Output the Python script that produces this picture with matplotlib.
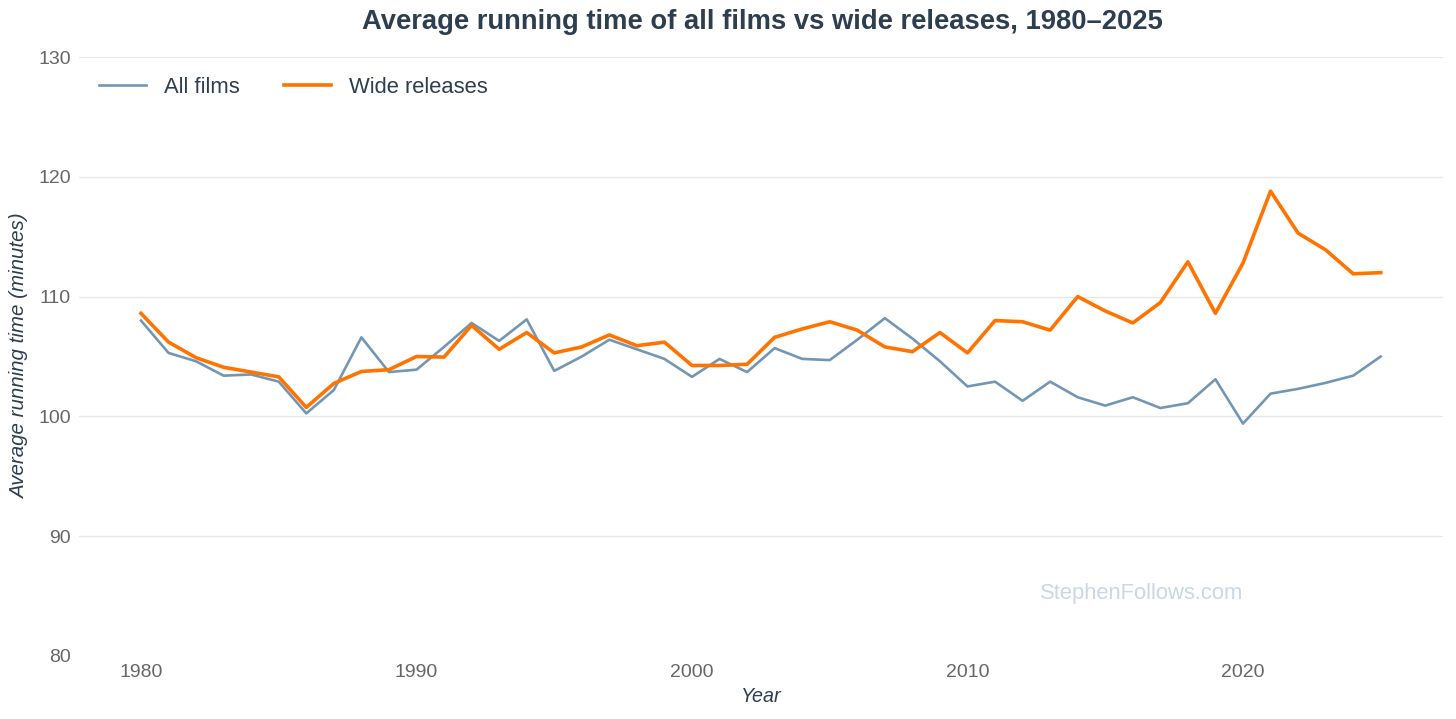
import numpy as np
import matplotlib
matplotlib.use('Agg')
import matplotlib.pyplot as plt

plt.rcParams['font.family'] = ['Liberation Sans', 'DejaVu Sans']

# 연도 데이터
years = np.arange(1980, 2026)

# 전체 영화 평균 러닝타임 (분)
all_films = [108.0, 105.3, 104.6, 103.4, 103.5, 102.9, 100.25, 102.2, 106.6, 103.7,
             103.9, 105.8, 107.8, 106.3, 108.1, 103.8, 105.0, 106.4, 105.6, 104.8,
             103.3, 104.8, 103.7, 105.7, 104.8, 104.7, 106.4, 108.2, 106.5, 104.6,
             102.5, 102.9, 101.3, 102.9, 101.6, 100.9, 101.6, 100.7, 101.1, 103.1,
             99.4, 101.9, 102.3, 102.8, 103.4, 105.0]

# 와이드 릴리즈 평균 러닝타임 (분)
wide_releases = [108.6, 106.2, 104.9, 104.1, 103.7, 103.3, 100.75, 102.75, 103.75, 103.9,
                 105.0, 104.95, 107.6, 105.6, 107.0, 105.3, 105.8, 106.8, 105.9, 106.2,
                 104.25, 104.25, 104.35, 106.6, 107.3, 107.9, 107.2, 105.8, 105.4, 107.0,
                 105.3, 108.0, 107.9, 107.2, 110.0, 108.8, 107.8, 109.5, 112.9, 108.6,
                 112.8, 118.8, 115.3, 113.9, 111.9, 112.0]

x_ticks = [1980, 1990, 2000, 2010, 2020]
y_ticks = [80, 90, 100, 110, 120, 130]

W, H = 1456, 719
fig = plt.figure(figsize=(W / 100, H / 100), dpi=100)
# 축 위치 (픽셀 기준으로 계산)
ax_l, ax_r, ax_t, ax_b = 79, 1443, 57, 656
ax = fig.add_axes([ax_l / W, 1 - ax_b / H, (ax_r - ax_l) / W, (ax_b - ax_t) / H])

ax.plot(years, all_films, color='#7396b5', linewidth=1.9, label='All films')
ax.plot(years, wide_releases, color='#ff7300', linewidth=2.6, label='Wide releases')

ax.set_xlim(1977.75, 2027.26)
ax.set_ylim(80, 130)
ax.set_xticks(x_ticks)
ax.set_yticks(y_ticks)

# 그리드 (80 선은 안 보이게)
for v in y_ticks[1:]:
    ax.axhline(v, color='#e6e6e6', linewidth=0.9, zorder=0)

for s in ax.spines.values():
    s.set_visible(False)
ax.tick_params(axis='both', length=0, labelsize=14, labelcolor='#666666')
ax.tick_params(axis='y', pad=6)
ax.tick_params(axis='x', pad=6)

ax.set_xlabel('Year', fontsize=14.2, style='italic', color='#2c3e50')
ax.xaxis.set_label_coords(0.5, -(696 - ax_b) / (ax_b - ax_t))
ax.xaxis.label.set_va('center')
ax.set_ylabel('Average running time (minutes)', fontsize=14.8, style='italic', color='#2c3e50')
ax.yaxis.set_label_coords(-(ax_l - 20) / (ax_r - ax_l), 0.5)
ax.yaxis.label.set_va('center')

fig.text(762 / W, 1 - 22 / H, 'Average running time of all films vs wide releases, 1980\u20132025',
         ha='center', va='center', fontsize=19.7, fontweight='bold', color='#2c3e50')

leg = ax.legend(loc='upper left', ncol=2, frameon=False, fontsize=15.8, handlelength=2.15,
                columnspacing=2.0, handletextpad=0.82, bbox_to_anchor=(0.0, 1.0))
for t in leg.get_texts():
    t.set_color('#2c3e50')

# 워터마크
ax.text(1142 / W, 1 - 594 / H, 'StephenFollows.com', transform=fig.transFigure,
        ha='center', va='center', fontsize=15.8, color='#c9d7e6')

plt.savefig('out.png', dpi=100)
